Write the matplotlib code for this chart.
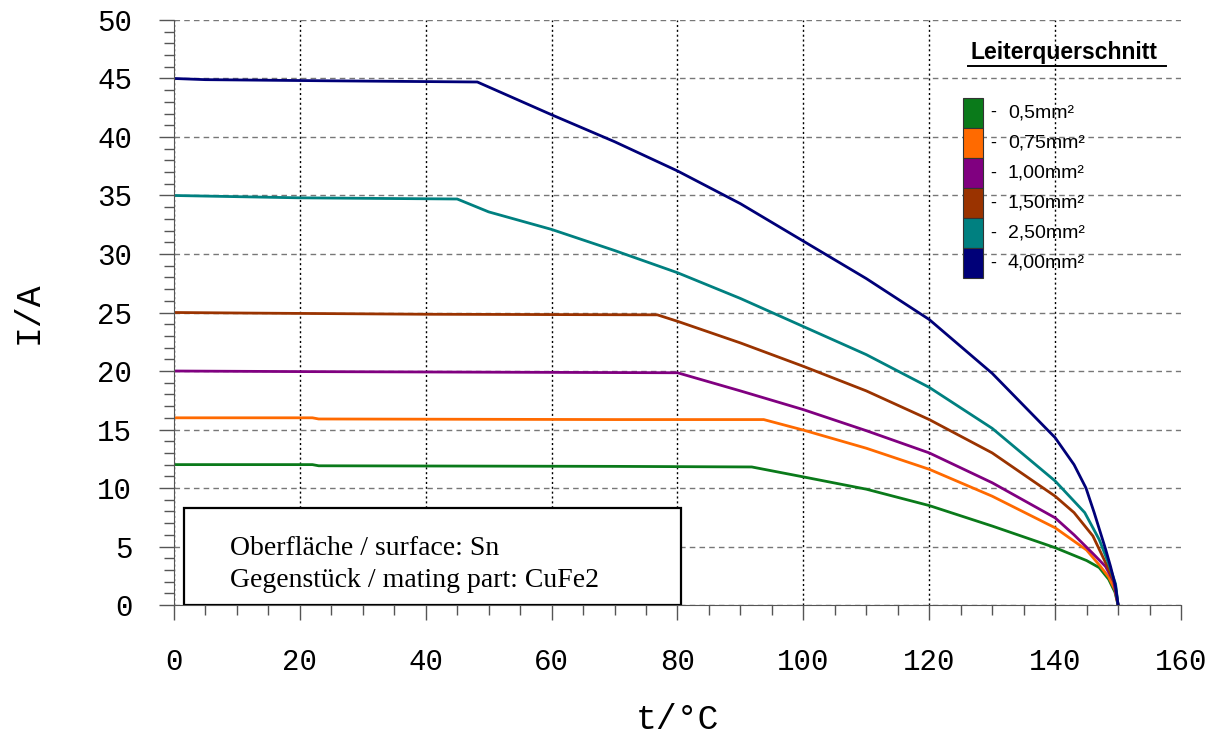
import matplotlib.pyplot as plt
from matplotlib.patches import Rectangle
from matplotlib.lines import Line2D

# values (t in degC, I in A)
t_05 = [0, 22, 23, 70, 91.8, 100, 110, 120, 130, 140, 145, 147, 148.5, 149.5, 150]
i_05 = [12.0, 12.0, 11.9, 11.85, 11.8, 10.95, 9.9, 8.5, 6.75, 4.9, 3.8, 3.2, 2.2, 1.1, 0]

t_075 = [0, 22, 23, 70, 93.7, 100, 110, 120, 130, 140, 145, 147.2, 148.5, 149.5, 150]
i_075 = [16.0, 16.0, 15.9, 15.85, 15.85, 14.95, 13.4, 11.6, 9.3, 6.6, 4.7, 3.3, 2.4, 1.3, 0]

t_100 = [0, 20, 80, 90, 100, 110, 120, 130, 140, 143, 146, 148, 149.3, 150]
i_100 = [20.0, 19.95, 19.85, 18.3, 16.7, 14.9, 13.0, 10.45, 7.45, 6.0, 4.4, 3.3, 2.0, 0]

t_150 = [0, 12, 40, 76.8, 80, 90, 100, 110, 120, 130, 140, 143, 146, 148.3, 149.5, 150]
i_150 = [25.0, 24.95, 24.85, 24.8, 24.25, 22.4, 20.4, 18.3, 15.85, 13.0, 9.3, 7.9, 5.9, 3.3, 1.8, 0]

t_250 = [0, 5, 20, 45, 50, 60, 70, 80, 90, 100, 110, 120, 130, 140, 144.7, 147, 148.6, 149.6, 150]
i_250 = [35.0, 34.95, 34.8, 34.7, 33.6, 32.1, 30.3, 28.4, 26.2, 23.8, 21.4, 18.6, 15.1, 10.6, 7.9, 5.6, 3.4, 1.8, 0]

t_400 = [0, 5, 25, 48.2, 60, 70, 80, 90, 100, 110, 120, 130, 140, 143, 144.9, 146.2, 148, 148.8, 149.6, 150]
i_400 = [45.0, 44.9, 44.8, 44.7, 41.9, 39.6, 37.1, 34.3, 31.1, 27.9, 24.4, 19.8, 14.3, 12.0, 10.0, 7.9, 4.8, 3.3, 1.6, 0]

series = [(t_05, i_05), (t_075, i_075), (t_100, i_100),
          (t_150, i_150), (t_250, i_250), (t_400, i_400)]
labels = ['0,5mm²', '0,75mm²', '1,00mm²', '1,50mm²', '2,50mm²', '4,00mm²']
colors = ['#0a7a1a', '#ff6a00', '#800080', '#9a3300', '#008080', '#000078']

fig = plt.figure(figsize=(12.31, 7.40), dpi=100)
ax = fig.add_axes([0.1413, 0.1824, 0.8181, 0.7906])

for (t, i), c in zip(series, colors):
    ax.plot(t, i, color=c, lw=2, solid_joinstyle='round')

ax.set_xlim(0, 160)
ax.set_ylim(0, 50)
ax.set_xticks(range(0, 161, 20))
ax.set_xticks(range(0, 161, 5), minor=True)
ax.set_yticks(range(0, 51, 5))
ax.set_yticks(range(0, 51, 1), minor=True)

mono = 'Liberation Mono'
for lab in ax.get_xticklabels() + ax.get_yticklabels():
    lab.set_family(mono)
    lab.set_fontsize(21)
ax.tick_params(which='major', direction='out', length=11, width=1, color='#555555')
ax.tick_params(which='minor', direction='out', length=7, width=1, color='#555555')
ax.tick_params(axis='x', pad=20)
ax.tick_params(axis='y', pad=19)

ax.grid(axis='x', which='major', color='black', linestyle=(0, (1.5, 2)), lw=1)
ax.grid(axis='y', which='major', color='#777777', linestyle=(0, (4, 3)), lw=1)
ax.xaxis.get_gridlines()[-1].set_visible(False)
ax.set_axisbelow(True)
for s in ['top', 'right']:
    ax.spines[s].set_visible(False)
for s in ['left', 'bottom']:
    ax.spines[s].set_color('#555555')

ax.set_xlabel('t/°C', family=mono, fontsize=25)
ax.set_ylabel('I/A', family=mono, fontsize=25)
ax.xaxis.set_label_coords(0.5, -0.168)
ax.yaxis.set_label_coords(-0.128, 0.5)

# info box
ax.add_patch(Rectangle((0.0099, 0.0), 0.4936, 0.1658, transform=ax.transAxes,
                       facecolor='white', edgecolor='black', lw=1.6, zorder=5))
ax.text(0.0556, 0.0974, 'Oberfläche / surface: Sn', transform=ax.transAxes,
        family='Liberation Serif', fontsize=20, va='center', zorder=6)
ax.text(0.0556, 0.0427, 'Gegenstück / mating part: CuFe2', transform=ax.transAxes,
        family='Liberation Serif', fontsize=20, va='center', zorder=6)

# legend
ax.text(0.884, 0.945, 'Leiterquerschnitt', transform=ax.transAxes, ha='center',
        va='center', family='Liberation Sans', fontweight='bold', fontsize=16.5)
ax.add_line(Line2D([0.7885, 0.985], [0.921, 0.921], transform=ax.transAxes,
                   color='black', lw=1.4))
box_h = 30.1 / 585
top = 1 - (97.7 - 20) / 585
for k, (lab, c) in enumerate(zip(labels, colors)):
    y0 = top - (k + 1) * box_h
    ax.add_patch(Rectangle((0.7835, y0), 0.0199, box_h, transform=ax.transAxes,
                           facecolor=c, edgecolor='#333333', lw=0.8, zorder=6))
    ax.text(0.811, y0 + box_h / 2, '-', transform=ax.transAxes,
            va='center', family='Liberation Sans', fontsize=13, zorder=6)
    ax.text(0.828, y0 + box_h / 2, lab, transform=ax.transAxes,
            va='center', family='Liberation Sans', fontsize=14, zorder=6)

fig.savefig('out.png', dpi=100)
